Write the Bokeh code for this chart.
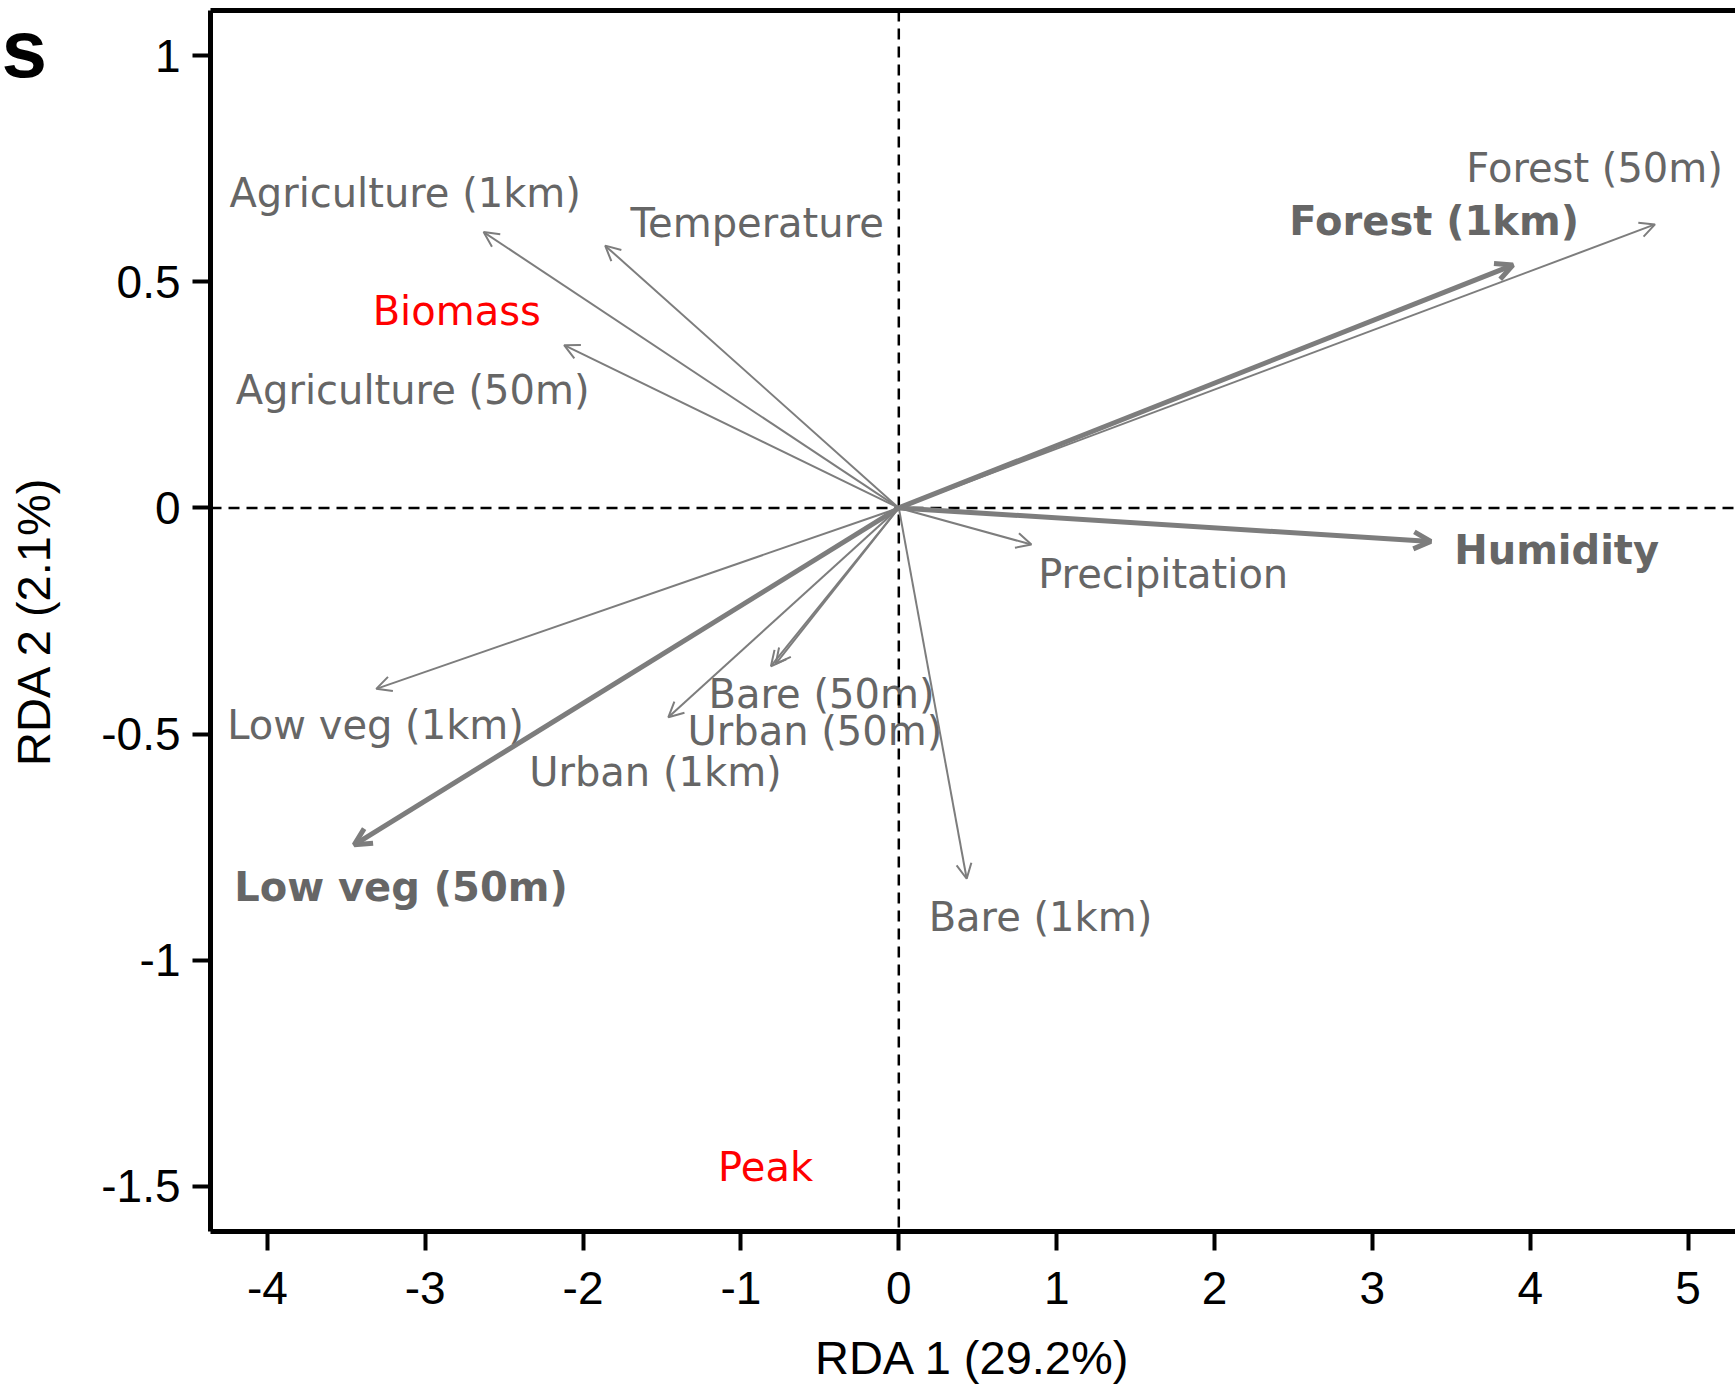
from bokeh.plotting import figure
from bokeh.models import (ColumnDataSource, Arrow, OpenHead, Span,
                          LinearAxis, FixedTicker, Range1d, CustomJSTickFormatter)
from bokeh.core.properties import value
from bokeh.embed import file_html
from bokeh.resources import INLINE

# Explanatory variables: biplot scores on RDA 1 / RDA 2
env_names = ["Agriculture (1km)", "Temperature", "Agriculture (50m)",
             "Forest (50m)", "Forest (1km)", "Humidity", "Precipitation",
             "Bare (1km)", "Bare (50m)", "Urban (50m)", "Urban (1km)",
             "Low veg (1km)", "Low veg (50m)"]
env_rda1 = [-2.63, -1.86, -2.12, 4.79, 3.89, 3.37, 0.84,
            0.43, -0.81, -0.78, -1.46, -3.31, -3.45]
env_rda2 = [0.61, 0.58, 0.36, 0.627, 0.537, -0.074, -0.081,
            -0.82, -0.35, -0.345, -0.463, -0.40, -0.745]
env_selected = [False, False, False, False, True, True, False,
                False, False, False, False, False, True]
# where each variable name is written (left end of the text)
env_label_rda1 = [-4.24, -1.70, -4.20, 3.595, 2.474, 3.518, 0.883,
                  0.189, -1.205, -1.338, -2.341, -4.254, -4.21]
env_label_rda2 = [0.696, 0.630, 0.260, 0.752, 0.635, -0.093, -0.145,
                  -0.904, -0.412, -0.493, -0.583, -0.480, -0.838]

# Response variables
resp_names = ["Biomass", "Peak"]
resp_rda1 = [-2.80, -0.844]
resp_rda2 = [0.436, -1.458]

x_ticks = [-4, -3, -2, -1, 0, 1, 2, 3, 4, 5]
y_ticks = [-1.5, -1, -0.5, 0, 0.5, 1]

GRAY_LINE = "#7d7d7d"
GRAY_TEXT = "#666666"
LABEL_FONT = "DejaVu Sans"
AXIS_FONT = "Liberation Sans"

p = figure(width=1735, height=1388,
           x_range=Range1d(-4.36, 5.30), y_range=Range1d(-1.60, 1.10),
           output_backend="svg", toolbar_location=None,
           min_border_left=210, min_border_right=0,
           min_border_top=10, min_border_bottom=157)
p.outline_line_color = None
p.xgrid.visible = False
p.ygrid.visible = False
p.background_fill_color = "white"

# panel letter, tucked into the top-left corner
p.title.text = "s"
p.title.text_font = AXIS_FONT
p.title.text_font_size = "82px"
p.title.text_font_style = "bold"
p.title.text_color = "black"
p.title.align = "left"
p.title.vertical_align = "bottom"
p.title.offset = -209
p.title.standoff = -166

fmt = CustomJSTickFormatter(code="return tick.toString()")

for ax, ticks in ((p.xaxis[0], x_ticks), (p.yaxis[0], y_ticks)):
    ax.ticker = FixedTicker(ticks=ticks)
    ax.formatter = fmt
    ax.axis_line_width = 5
    ax.axis_line_color = "black"
    ax.major_tick_line_width = 4
    ax.major_tick_line_color = "black"
    ax.major_tick_in = 0
    ax.minor_tick_in = 0
    ax.minor_tick_out = 0
    ax.major_label_text_font = AXIS_FONT
    ax.major_label_text_font_size = "46px"
    ax.major_label_text_color = "black"
    ax.axis_label_text_font = AXIS_FONT
    ax.axis_label_text_font_size = "47px"
    ax.axis_label_text_font_style = "normal"
    ax.axis_label_text_color = "black"

p.xaxis[0].major_tick_out = 19
p.xaxis[0].major_label_standoff = 21
p.xaxis[0].axis_label = "RDA 1 (29.2%)"
p.xaxis[0].axis_label_standoff = 24

p.yaxis[0].major_tick_out = 18
p.yaxis[0].major_label_standoff = 12
p.yaxis[0].axis_label = "RDA 2 (2.1%)"
p.yaxis[0].axis_label_standoff = 38

# top edge of the box
top = LinearAxis(ticker=FixedTicker(ticks=[]), axis_line_width=5,
                 major_tick_out=0, major_tick_in=0, minor_tick_out=0,
                 minor_tick_in=0, major_label_text_font_size="0px",
                 major_label_standoff=0)
p.add_layout(top, "above")

# dashed reference lines through the origin
for dim, loc in (("height", 0), ("width", 0)):
    p.add_layout(Span(location=loc, dimension=dim, line_color="black",
                      line_width=2.5, line_dash="11 7"))

# arrows for explanatory variables
def arrow_source(flag):
    idx = [i for i, s in enumerate(env_selected) if s == flag]
    return ColumnDataSource(dict(
        x_start=[0.0] * len(idx), y_start=[0.0] * len(idx),
        x_end=[env_rda1[i] for i in idx], y_end=[env_rda2[i] for i in idx]))

p.add_layout(Arrow(source=arrow_source(False), x_start="x_start", y_start="y_start",
                   x_end="x_end", y_end="y_end", line_color=GRAY_LINE, line_width=2,
                   end=OpenHead(size=15, line_color=GRAY_LINE, line_width=2)))
p.add_layout(Arrow(source=arrow_source(True), x_start="x_start", y_start="y_start",
                   x_end="x_end", y_end="y_end", line_color=GRAY_LINE, line_width=5,
                   end=OpenHead(size=17, line_color=GRAY_LINE, line_width=5)))

# variable names
def label_source(flag):
    idx = [i for i, s in enumerate(env_selected) if s == flag]
    return ColumnDataSource(dict(
        x=[env_label_rda1[i] for i in idx], y=[env_label_rda2[i] for i in idx],
        name=[env_names[i] for i in idx]))

p.text(x="x", y="y", text="name", source=label_source(False),
       text_font=value(LABEL_FONT), text_font_size="40px", text_color=GRAY_TEXT,
       text_align="left", text_baseline="middle")
p.text(x="x", y="y", text="name", source=label_source(True),
       text_font=value(LABEL_FONT), text_font_size="40px", text_font_style="bold",
       text_color=GRAY_TEXT, text_align="left", text_baseline="middle")

# response variables
p.text(x="x", y="y", text="name",
       source=ColumnDataSource(dict(x=resp_rda1, y=resp_rda2, name=resp_names)),
       text_font=value(LABEL_FONT), text_font_size="40px", text_color="#ff0000",
       text_align="center", text_baseline="middle")

open("out.html", "w").write(file_html(p, INLINE))
